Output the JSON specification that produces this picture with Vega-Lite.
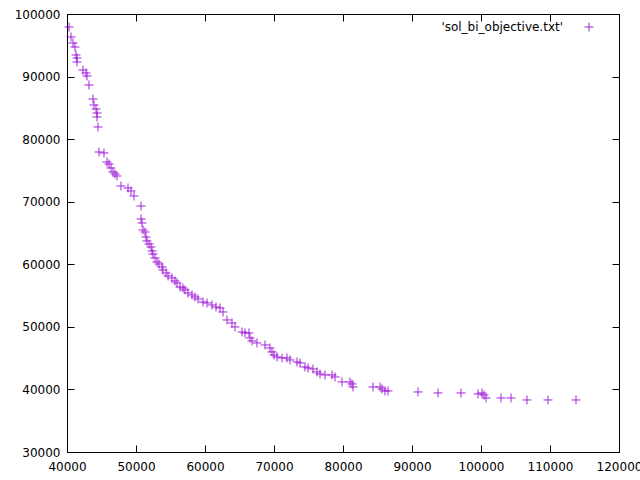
{
  "$schema": "https://vega.github.io/schema/vega-lite/v6.json",
  "width": 552,
  "height": 438,
  "autosize": {"type": "none"},
  "padding": {"left": 67, "top": 14, "right": 21, "bottom": 28},
  "background": "white",
  "config": {
    "view": {"stroke": "black", "strokeWidth": 1},
    "axis": {
      "domainColor": "black",
      "tickColor": "black",
      "tickSize": -7,
      "labelColor": "black",
      "labelFont": "DejaVu Sans",
      "labelFontSize": 12,
      "grid": false,
      "title": null
    }
  },
  "data": {
    "values": [
      {"x": 40290, "y": 97923, "s": "'sol_bi_objective.txt'"},
      {"x": 40580, "y": 96325, "s": "'sol_bi_objective.txt'"},
      {"x": 40870, "y": 95366, "s": "'sol_bi_objective.txt'"},
      {"x": 41159, "y": 94727, "s": "'sol_bi_objective.txt'"},
      {"x": 41304, "y": 93448, "s": "'sol_bi_objective.txt'"},
      {"x": 41449, "y": 92969, "s": "'sol_bi_objective.txt'"},
      {"x": 41449, "y": 92330, "s": "'sol_bi_objective.txt'"},
      {"x": 42319, "y": 91051, "s": "'sol_bi_objective.txt'"},
      {"x": 42754, "y": 90572, "s": "'sol_bi_objective.txt'"},
      {"x": 42899, "y": 90092, "s": "'sol_bi_objective.txt'"},
      {"x": 43188, "y": 88654, "s": "'sol_bi_objective.txt'"},
      {"x": 43768, "y": 86417, "s": "'sol_bi_objective.txt'"},
      {"x": 43913, "y": 85458, "s": "'sol_bi_objective.txt'"},
      {"x": 44203, "y": 84819, "s": "'sol_bi_objective.txt'"},
      {"x": 44348, "y": 84180, "s": "'sol_bi_objective.txt'"},
      {"x": 44348, "y": 83541, "s": "'sol_bi_objective.txt'"},
      {"x": 44493, "y": 81942, "s": "'sol_bi_objective.txt'"},
      {"x": 44638, "y": 77947, "s": "'sol_bi_objective.txt'"},
      {"x": 45362, "y": 77787, "s": "'sol_bi_objective.txt'"},
      {"x": 45797, "y": 76349, "s": "'sol_bi_objective.txt'"},
      {"x": 46087, "y": 76029, "s": "'sol_bi_objective.txt'"},
      {"x": 46377, "y": 75390, "s": "'sol_bi_objective.txt'"},
      {"x": 46667, "y": 74751, "s": "'sol_bi_objective.txt'"},
      {"x": 46957, "y": 74431, "s": "'sol_bi_objective.txt'"},
      {"x": 47246, "y": 74112, "s": "'sol_bi_objective.txt'"},
      {"x": 47826, "y": 72514, "s": "'sol_bi_objective.txt'"},
      {"x": 48841, "y": 72195, "s": "'sol_bi_objective.txt'"},
      {"x": 49275, "y": 71715, "s": "'sol_bi_objective.txt'"},
      {"x": 49710, "y": 70916, "s": "'sol_bi_objective.txt'"},
      {"x": 50725, "y": 69318, "s": "'sol_bi_objective.txt'"},
      {"x": 50725, "y": 67241, "s": "'sol_bi_objective.txt'"},
      {"x": 50870, "y": 66601, "s": "'sol_bi_objective.txt'"},
      {"x": 51014, "y": 65483, "s": "'sol_bi_objective.txt'"},
      {"x": 51304, "y": 65163, "s": "'sol_bi_objective.txt'"},
      {"x": 51449, "y": 64364, "s": "'sol_bi_objective.txt'"},
      {"x": 51594, "y": 63725, "s": "'sol_bi_objective.txt'"},
      {"x": 51884, "y": 63246, "s": "'sol_bi_objective.txt'"},
      {"x": 52174, "y": 62767, "s": "'sol_bi_objective.txt'"},
      {"x": 52319, "y": 62128, "s": "'sol_bi_objective.txt'"},
      {"x": 52464, "y": 61648, "s": "'sol_bi_objective.txt'"},
      {"x": 52754, "y": 61009, "s": "'sol_bi_objective.txt'"},
      {"x": 53043, "y": 60370, "s": "'sol_bi_objective.txt'"},
      {"x": 53333, "y": 60050, "s": "'sol_bi_objective.txt'"},
      {"x": 53768, "y": 59571, "s": "'sol_bi_objective.txt'"},
      {"x": 53913, "y": 59092, "s": "'sol_bi_objective.txt'"},
      {"x": 54348, "y": 58612, "s": "'sol_bi_objective.txt'"},
      {"x": 54638, "y": 58133, "s": "'sol_bi_objective.txt'"},
      {"x": 55217, "y": 57813, "s": "'sol_bi_objective.txt'"},
      {"x": 55652, "y": 57334, "s": "'sol_bi_objective.txt'"},
      {"x": 55942, "y": 57014, "s": "'sol_bi_objective.txt'"},
      {"x": 56377, "y": 56375, "s": "'sol_bi_objective.txt'"},
      {"x": 56812, "y": 56215, "s": "'sol_bi_objective.txt'"},
      {"x": 57101, "y": 55896, "s": "'sol_bi_objective.txt'"},
      {"x": 57536, "y": 55416, "s": "'sol_bi_objective.txt'"},
      {"x": 58116, "y": 55097, "s": "'sol_bi_objective.txt'"},
      {"x": 58551, "y": 54777, "s": "'sol_bi_objective.txt'"},
      {"x": 58986, "y": 54457, "s": "'sol_bi_objective.txt'"},
      {"x": 59710, "y": 53978, "s": "'sol_bi_objective.txt'"},
      {"x": 60290, "y": 53818, "s": "'sol_bi_objective.txt'"},
      {"x": 61014, "y": 53498, "s": "'sol_bi_objective.txt'"},
      {"x": 61594, "y": 53179, "s": "'sol_bi_objective.txt'"},
      {"x": 62174, "y": 53019, "s": "'sol_bi_objective.txt'"},
      {"x": 62609, "y": 52380, "s": "'sol_bi_objective.txt'"},
      {"x": 63188, "y": 51101, "s": "'sol_bi_objective.txt'"},
      {"x": 63913, "y": 50622, "s": "'sol_bi_objective.txt'"},
      {"x": 64348, "y": 49983, "s": "'sol_bi_objective.txt'"},
      {"x": 65362, "y": 49184, "s": "'sol_bi_objective.txt'"},
      {"x": 65797, "y": 49024, "s": "'sol_bi_objective.txt'"},
      {"x": 66377, "y": 49024, "s": "'sol_bi_objective.txt'"},
      {"x": 66522, "y": 48225, "s": "'sol_bi_objective.txt'"},
      {"x": 66812, "y": 47745, "s": "'sol_bi_objective.txt'"},
      {"x": 67536, "y": 47426, "s": "'sol_bi_objective.txt'"},
      {"x": 68696, "y": 47106, "s": "'sol_bi_objective.txt'"},
      {"x": 69420, "y": 46627, "s": "'sol_bi_objective.txt'"},
      {"x": 69710, "y": 45988, "s": "'sol_bi_objective.txt'"},
      {"x": 70000, "y": 45508, "s": "'sol_bi_objective.txt'"},
      {"x": 70435, "y": 45188, "s": "'sol_bi_objective.txt'"},
      {"x": 71159, "y": 45029, "s": "'sol_bi_objective.txt'"},
      {"x": 71884, "y": 45029, "s": "'sol_bi_objective.txt'"},
      {"x": 72319, "y": 44709, "s": "'sol_bi_objective.txt'"},
      {"x": 73333, "y": 44390, "s": "'sol_bi_objective.txt'"},
      {"x": 73768, "y": 44230, "s": "'sol_bi_objective.txt'"},
      {"x": 74493, "y": 43591, "s": "'sol_bi_objective.txt'"},
      {"x": 74928, "y": 43431, "s": "'sol_bi_objective.txt'"},
      {"x": 75652, "y": 43271, "s": "'sol_bi_objective.txt'"},
      {"x": 76232, "y": 42792, "s": "'sol_bi_objective.txt'"},
      {"x": 76667, "y": 42472, "s": "'sol_bi_objective.txt'"},
      {"x": 77391, "y": 42312, "s": "'sol_bi_objective.txt'"},
      {"x": 78406, "y": 42312, "s": "'sol_bi_objective.txt'"},
      {"x": 78841, "y": 41993, "s": "'sol_bi_objective.txt'"},
      {"x": 79855, "y": 41194, "s": "'sol_bi_objective.txt'"},
      {"x": 81014, "y": 41194, "s": "'sol_bi_objective.txt'"},
      {"x": 81304, "y": 40874, "s": "'sol_bi_objective.txt'"},
      {"x": 81449, "y": 40394, "s": "'sol_bi_objective.txt'"},
      {"x": 84348, "y": 40394, "s": "'sol_bi_objective.txt'"},
      {"x": 85362, "y": 40394, "s": "'sol_bi_objective.txt'"},
      {"x": 85652, "y": 40075, "s": "'sol_bi_objective.txt'"},
      {"x": 86087, "y": 39755, "s": "'sol_bi_objective.txt'"},
      {"x": 86522, "y": 39755, "s": "'sol_bi_objective.txt'"},
      {"x": 90870, "y": 39595, "s": "'sol_bi_objective.txt'"},
      {"x": 93768, "y": 39435, "s": "'sol_bi_objective.txt'"},
      {"x": 97101, "y": 39435, "s": "'sol_bi_objective.txt'"},
      {"x": 99565, "y": 39275, "s": "'sol_bi_objective.txt'"},
      {"x": 100145, "y": 39435, "s": "'sol_bi_objective.txt'"},
      {"x": 100435, "y": 39116, "s": "'sol_bi_objective.txt'"},
      {"x": 100725, "y": 38636, "s": "'sol_bi_objective.txt'"},
      {"x": 102899, "y": 38636, "s": "'sol_bi_objective.txt'"},
      {"x": 104348, "y": 38636, "s": "'sol_bi_objective.txt'"},
      {"x": 106667, "y": 38317, "s": "'sol_bi_objective.txt'"},
      {"x": 109710, "y": 38317, "s": "'sol_bi_objective.txt'"},
      {"x": 113768, "y": 38317, "s": "'sol_bi_objective.txt'"}
    ]
  },
  "layer": [
    {
      "mark": {"type": "point", "shape": "M-1,0L1,0M0,-1L0,1", "filled": false, "size": 80, "strokeWidth": 1, "opacity": 0.85},
      "encoding": {
        "x": {"field": "x", "type": "quantitative", "scale": {"domain": [40000, 120000], "nice": false, "zero": false},
              "axis": {"orient": "bottom", "values": [40000, 50000, 60000, 70000, 80000, 90000, 100000, 110000, 120000], "format": "d", "labelPadding": 16, "labelFlush": false, "labelOverlap": false}},
        "y": {"field": "y", "type": "quantitative", "scale": {"domain": [30000, 100000], "nice": false, "zero": false},
              "axis": {"orient": "left", "values": [30000, 40000, 50000, 60000, 70000, 80000, 90000, 100000], "format": "d", "labelPadding": 14, "labelFlush": false, "labelOverlap": false}},
        "color": {"field": "s", "type": "nominal", "scale": {"range": ["#9400d3"]},
                  "legend": {"title": null, "orient": "none", "legendX": 516, "legendY": 7, "labelAlign": "right", "labelOffset": -32, "labelFont": "DejaVu Sans", "labelFontSize": 12, "labelColor": "black", "symbolStrokeWidth": 1, "symbolSize": 80, "padding": 0}}
      }
    },
    {
      "mark": {"type": "point", "opacity": 0},
      "encoding": {
        "x": {"field": "x", "type": "quantitative", "axis": {"orient": "top", "values": [40000, 50000, 60000, 70000, 80000, 90000, 100000, 110000, 120000], "labels": false}},
        "y": {"field": "y", "type": "quantitative", "axis": {"orient": "right", "values": [30000, 40000, 50000, 60000, 70000, 80000, 90000, 100000], "labels": false}}
      }
    }
  ],
  "resolve": {"axis": {"x": "independent", "y": "independent"}}
}
